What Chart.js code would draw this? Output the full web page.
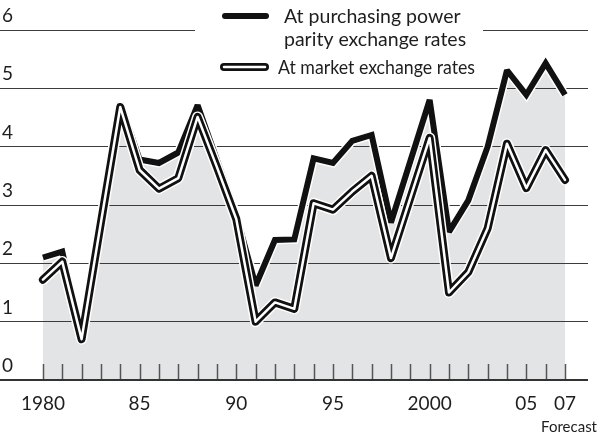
<!DOCTYPE html>
<html>
<head>
<meta charset="utf-8">
<script src="https://cdn.jsdelivr.net/npm/chart.js@4/dist/chart.umd.min.js"></script>
<style>
  html, body { margin: 0; padding: 0; background: #fff; }
  #wrap { position: relative; width: 601px; height: 435px; }
</style>
</head>
<body>
<div id="wrap"><canvas id="chart"></canvas></div>
<script>
// dados
const years = [];
for (let y = 1980; y <= 2007; y++) years.push(y);

const pppRates = [2.1, 2.2, 0.72, 2.75, 4.75, 3.78, 3.72, 3.9, 4.71, 3.77, 2.83, 1.62, 2.4, 2.41,
                  3.8, 3.72, 4.1, 4.2, 2.7, 3.75, 4.8, 2.54, 3.08, 4.0, 5.31, 4.89, 5.43, 4.89];
const marketRates = [1.72, 2.03, 0.7, 2.7, 4.68, 3.6, 3.28, 3.46, 4.51, 3.65, 2.76, 1.0, 1.33, 1.22,
                     3.03, 2.92, 3.23, 3.5, 2.09, 3.12, 4.15, 1.5, 1.85, 2.6, 4.05, 3.29, 3.94, 3.43];

const xLabelYears = [1980, 1985, 1990, 1995, 2000, 2005, 2007];
const xLabelText = ['1980', '85', '90', '95', '2000', '05', '07'];
const yTicks = [0, 1, 2, 3, 4, 5, 6];

const legendPpp = ['At purchasing power', 'parity exchange rates'];
const legendMarket = 'At market exchange rates';
const forecastNote = 'Forecast';

const FONT = 'Lato, "Open Sans", sans-serif';
const INK = '#1e1e1e';

function points(values) {
    return values.map((v, i) => ({ x: years[i], y: v }));
}

// limita as pontas dos cantos agudos
const miterPlugin = {
    id: 'miter',
    beforeDatasetsDraw(chart) {
        chart.ctx.save();
        chart.ctx.miterLimit = 2.2;
    },
    afterDatasetsDraw(chart) {
        chart.ctx.restore();
    }
};

// marcas anuais no eixo x, legenda e nota
const extrasPlugin = {
    id: 'extras',
    afterDraw(chart) {
        const ctx = chart.ctx;
        const xs = chart.scales.x;
        const ys = chart.scales.y;
        const base = ys.getPixelForValue(0);

        ctx.save();
        ctx.strokeStyle = '#555';
        ctx.lineWidth = 1.5;
        years.forEach(yr => {
            const px = Math.round(xs.getPixelForValue(yr)) + 0.5;
            ctx.beginPath();
            ctx.moveTo(px, base - 16);
            ctx.lineTo(px, base - 1);
            ctx.stroke();
        });

        // legenda
        ctx.fillStyle = '#fff';
        ctx.fillRect(195, 0, 288, 82);

        ctx.lineCap = 'round';
        ctx.strokeStyle = '#111';
        ctx.lineWidth = 6;
        ctx.beginPath();
        ctx.moveTo(225, 16);
        ctx.lineTo(266, 16);
        ctx.stroke();

        ctx.lineWidth = 8;
        ctx.beginPath();
        ctx.moveTo(224, 67);
        ctx.lineTo(265, 67);
        ctx.stroke();
        ctx.strokeStyle = '#fff';
        ctx.lineWidth = 2.5;
        ctx.beginPath();
        ctx.moveTo(224, 67);
        ctx.lineTo(265, 67);
        ctx.stroke();

        ctx.fillStyle = INK;
        ctx.font = '19.5px ' + FONT;
        ctx.textBaseline = 'middle';
        ctx.textAlign = 'left';
        ctx.fillText(legendPpp[0], 284, 17);
        ctx.fillText(legendPpp[1], 284, 40);
        ctx.fillText(legendMarket, 278, 68, 197);

        ctx.font = '15px ' + FONT;
        ctx.textAlign = 'right';
        ctx.fillText(forecastNote, 597, 427);
        ctx.restore();
    }
};

const ctx = document.getElementById('chart').getContext('2d');
new Chart(ctx, {
    type: 'line',
    data: {
        datasets: [
            { data: points(marketRates), borderColor: '#fff', borderWidth: 2.5, borderCapStyle: 'round', borderJoinStyle: 'round', order: 0 },
            { data: points(marketRates), borderColor: '#111', borderWidth: 8, borderCapStyle: 'round', borderJoinStyle: 'round', order: 1 },
            { data: points(marketRates), borderColor: '#fff', borderWidth: 11, borderCapStyle: 'round', borderJoinStyle: 'round', order: 2 },
            { data: points(pppRates), borderColor: '#111', borderWidth: 6, borderCapStyle: 'butt', borderJoinStyle: 'miter', order: 3 },
            { data: points(pppRates), borderColor: '#fff', borderWidth: 9, borderCapStyle: 'butt', borderJoinStyle: 'miter', order: 4,
              fill: 'origin', backgroundColor: '#e3e4e6' }
        ]
    },
    options: {
        responsive: true,
        maintainAspectRatio: false,
        animation: false,
        events: [],
        layout: { padding: { top: 30, right: 13, left: 0, bottom: 0 } },
        elements: { point: { radius: 0 }, line: { tension: 0 } },
        plugins: {
            legend: { display: false },
            tooltip: { enabled: false },
            filler: { drawTime: 'beforeDraw' }
        },
        scales: {
            x: {
                type: 'linear',
                min: 1977.78,
                max: 2008.19,
                afterFit: s => { s.height = 55; },
                afterBuildTicks: s => { s.ticks = xLabelYears.map(v => ({ value: v })); },
                grid: { display: false, drawTicks: false },
                border: { display: false },
                ticks: {
                    autoSkip: false,
                    maxRotation: 0,
                    padding: 12,
                    color: INK,
                    font: { family: FONT, size: 19 },
                    callback: v => xLabelText[xLabelYears.indexOf(v)]
                }
            },
            y: {
                min: 0,
                max: 6,
                afterFit: s => { s.width = 0; },
                afterBuildTicks: s => { s.ticks = yTicks.map(v => ({ value: v })); },
                grid: {
                    color: c => c.tick && c.tick.value === 0 ? '#333' : '#3c3c3c',
                    lineWidth: c => c.tick && c.tick.value === 0 ? 2 : 1,
                    drawTicks: false
                },
                border: { display: false },
                ticks: {
                    mirror: true,
                    padding: 2,
                    labelOffset: -14,
                    color: INK,
                    font: { family: FONT, size: 19 }
                }
            }
        }
    },
    plugins: [miterPlugin, extrasPlugin]
});
</script>
</body>
</html>
